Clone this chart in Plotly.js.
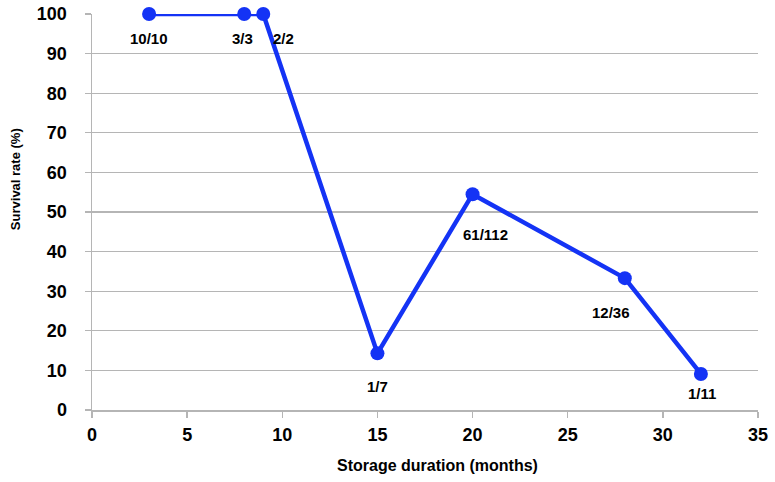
<!DOCTYPE html>
<html>
<head>
<meta charset="utf-8">
<script src="https://cdn.plot.ly/plotly-3.0.1.min.js"></script>
<style>html,body{margin:0;padding:0;background:#fff;}#chart{width:775px;height:482px;}</style>
</head>
<body>
<div id="chart"></div>
<script>
var months = [3, 8, 9, 15, 20, 28, 32];
var survival = [100, 100, 100, 14.3, 54.5, 33.3, 9.1];
var labels = ['10/10', '3/3', '2/2', '1/7', '61/112', '12/36', '1/11'];
var labelDx = [0, -2, 20, 0, 13, -14, 1];
var labelDy = [-24, -24, -24, -33, -40, -34, -20];
var xTicks = [0, 5, 10, 15, 20, 25, 30, 35];
var yTicks = [0, 10, 20, 30, 40, 50, 60, 70, 80, 90, 100];

var FONT = 'Arial, "Liberation Sans", Helvetica, sans-serif';
var GRID = '#b5b5b5';
var BLUE = '#1433f5';

var trace = {
  x: months, y: survival, type: 'scatter', mode: 'lines+markers',
  line: {color: BLUE, width: 4.5},
  marker: {color: BLUE, size: 14},
  cliponaxis: false, hoverinfo: 'none'
};

var annotations = labels.map(function (t, i) {
  return {x: months[i], y: survival[i], xref: 'x', yref: 'y', text: '<b>' + t + '</b>',
    showarrow: false, xanchor: 'center', yanchor: 'middle',
    xshift: labelDx[i], yshift: labelDy[i],
    font: {family: FONT, size: 15, color: '#000'}};
});
annotations.push({xref: 'paper', yref: 'paper', x: 0, y: 0.583, xshift: -77, textangle: -90,
  text: '<b>Survival rate (%)</b>', showarrow: false, xanchor: 'center', yanchor: 'middle',
  font: {family: FONT, size: 13, color: '#000'}});
annotations.push({xref: 'paper', yref: 'paper', x: 0.519, y: -0.139,
  text: '<b>Storage duration (months)</b>', showarrow: false, xanchor: 'center', yanchor: 'middle',
  font: {family: FONT, size: 16, color: '#000'}});

var layout = {
  width: 775, height: 482,
  margin: {l: 92, r: 17, t: 14, b: 72},
  paper_bgcolor: '#fff', plot_bgcolor: '#fff',
  showlegend: false,
  font: {family: FONT, color: '#000'},
  xaxis: {
    range: [0, 35], tickvals: xTicks, ticktext: xTicks.map(function (v) { return '<b>' + v + '</b>'; }),
    showgrid: false, zeroline: false, showline: true, linecolor: GRID, linewidth: 1.5,
    ticks: 'outside', ticklen: 6, tickcolor: GRID, tickwidth: 1.5,
    tickfont: {family: FONT, size: 18, color: '#000'}, ticklabelstandoff: 2
  },
  yaxis: {
    range: [0, 100], tickvals: yTicks, ticktext: yTicks.map(function (v) { return '<b>' + v + '</b>'; }),
    showgrid: true, gridcolor: GRID, gridwidth: 1.2, zeroline: false,
    showline: true, linecolor: GRID, linewidth: 1.5,
    ticks: 'outside', ticklen: 6, tickcolor: GRID, tickwidth: 1.2,
    tickfont: {family: FONT, size: 18, color: '#000'}, ticklabelstandoff: 14
  },
  annotations: annotations
};

Plotly.newPlot('chart', [trace], layout, {staticPlot: true, displayModeBar: false});
</script>
</body>
</html>
